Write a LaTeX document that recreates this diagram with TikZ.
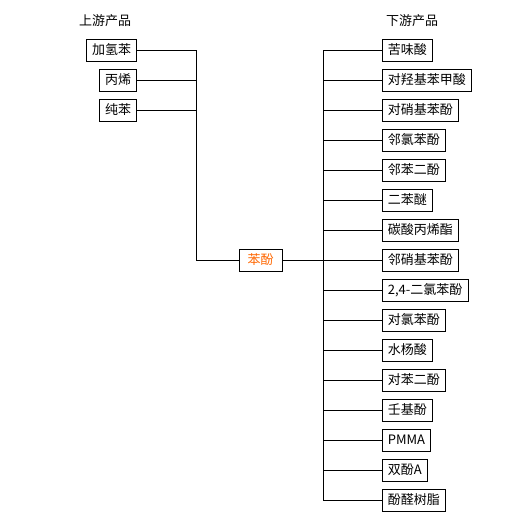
\documentclass[tikz,border=0pt]{standalone}
\usepackage{fontspec}
\setmainfont{Noto Sans CJK SC}
\usetikzlibrary{positioning}
\definecolor{phenolorange}{HTML}{FF6600}

\tikzset{
  prod/.style={draw, line width=0.8pt, minimum height=22pt, inner xsep=5.5pt,
    inner ysep=0pt, font=\fontsize{13}{14}\selectfont},
  link/.style={line width=0.8pt},
  title/.style={font=\fontsize{13}{14}\selectfont}
}

\begin{document}
\begin{tikzpicture}[x=1pt,y=-1pt]
    \useasboundingbox (0,0) rectangle (520,520);

    % Titles
    \node[title] (uptitle) at (105,21) {上游产品};
    \node[title] (downtitle) at (412,21) {下游产品};

    % Upstream products
    \node[prod, anchor=east] (up1) at (137,50) {加氢苯};
    \node[prod, anchor=east] (up2) at (137,80) {丙烯};
    \node[prod, anchor=east] (up3) at (137,110) {纯苯};

    % Phenol
    \node[prod, text=phenolorange, minimum width=43pt] (phenol) at (260.5,260) {苯酚};
    \coordinate (lbus) at (196,260);
    \coordinate (rbus) at (323,260);

    % Downstream products
    \foreach \txt [count=\i] in {苦味酸,对羟基苯甲酸,对硝基苯酚,邻氯苯酚,邻苯二酚,
        二苯醚,碳酸丙烯酯,邻硝基苯酚,{2,4-二氯苯酚},对氯苯酚,水杨酸,对苯二酚,
        壬基酚,PMMA,双酚A,酚醛树脂}
      \node[prod, anchor=west] (down\i) at (382,{20+30*\i}) {\txt};

    % Upstream links
    \draw[link] (up1.east) -| (lbus) -- (phenol.west);
    \draw[link] (up2.east) -- (up2.east -| lbus);
    \draw[link] (up3.east) -- (up3.east -| lbus);

    % Downstream links
    \draw[link] (phenol.east) -- (rbus);
    \draw[link] (rbus |- down1.west) -- (rbus |- down16.west);
    \foreach \i in {1,...,16}
      \draw[link] (rbus |- down\i.west) -- (down\i.west);
\end{tikzpicture}
\end{document}
